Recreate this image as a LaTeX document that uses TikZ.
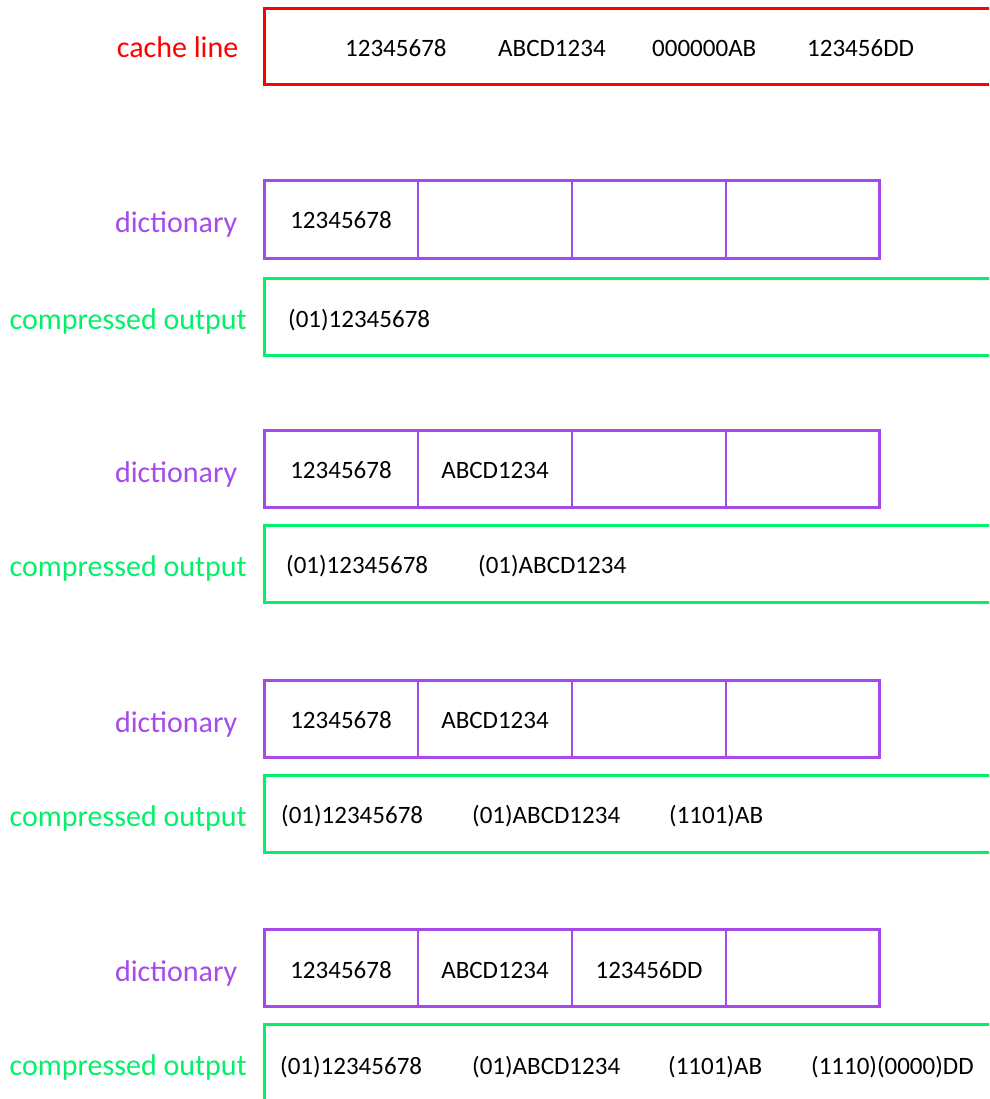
\documentclass[tikz,border=0pt]{standalone}
\usepackage{fontspec}
\setmainfont{Carlito}
\definecolor{cred}{HTML}{FF0000}
\definecolor{cpurple}{HTML}{A64BEA}
\definecolor{cgreen}{HTML}{00F26B}
\begin{document}
\begin{tikzpicture}[x=1pt,y=-1pt,
  lbl/.style={anchor=base east,inner sep=0pt,font=\fontsize{30}{36}\selectfont},
  valc/.style={anchor=base,inner sep=0pt,font=\fontsize{25}{30}\selectfont},
  valw/.style={anchor=base west,inner sep=0pt,font=\fontsize{25}{30}\selectfont},
  outer/.style={line width=3pt},
  divider/.style={line width=2.3pt}]
\useasboundingbox (0,0) rectangle (989,1099);
\fill[white] (0,0) rectangle (989,1099);
\begin{scope}
\clip (0,0) rectangle (989,1099);
% cache line
\draw[cred,outer] (264,9) rectangle (1010,85);
\node[lbl,text=cred] (lcache) at (238.5,58) {cache line};
\node[valw] (c1) at (345,57) {12345678};
\node[valw] (c2) at (498,57) {ABCD1234};
\node[valw] (c3) at (652,57) {000000AB};
\node[valw] (c4) at (807,57) {123456DD};

% dictionaries
\foreach \t/\n in {181/1,430.5/2,680.5/3,929.5/4}{
  \draw[cpurple,outer] (264,\t) rectangle (879,\t+77);
  \foreach \x in {418,572,726}
    \draw[cpurple,divider] (\x,\t) -- (\x,\t+77);
  \node[lbl,text=cpurple] (ld\n) at (237.5,\t+52) {dictionary};
}
% compressed outputs
\foreach \t/\n in {278/1,525/2,775/3,1024/4}{
  \draw[cgreen,outer] (264,\t) rectangle (1010,\t+77);
  \node[lbl,text=cgreen] (lo\n) at (247,\t+51) {compressed output};
}

% dictionary contents
\node[valc] (d1a) at (341,229) {12345678};

\node[valc] (d2a) at (341,478.5) {12345678};
\node[valc] (d2b) at (495,478.5) {ABCD1234};

\node[valc] (d3a) at (341,728.5) {12345678};
\node[valc] (d3b) at (495,728.5) {ABCD1234};

\node[valc] (d4a) at (341,978) {12345678};
\node[valc] (d4b) at (495,978) {ABCD1234};
\node[valc] (d4c) at (649,978) {123456DD};

% compressed contents
\node[valw] (o1a) at (288,327) {(01)12345678};

\node[valw] (o2a) at (286,573) {(01)12345678};
\node[valw] (o2b) at (478,573) {(01)ABCD1234};

\node[valw] (o3a) at (281,823) {(01)12345678};
\node[valw] (o3b) at (472,823) {(01)ABCD1234};
\node[valw] (o3c) at (669,823) {(1101)AB};

\node[valw] (o4a) at (280,1074) {(01)12345678};
\node[valw] (o4b) at (472,1074) {(01)ABCD1234};
\node[valw] (o4c) at (668,1074) {(1101)AB};
\node[valw] (o4d) at (811,1074) {(1110)(0000)DD};
\end{scope}
\end{tikzpicture}
\end{document}
